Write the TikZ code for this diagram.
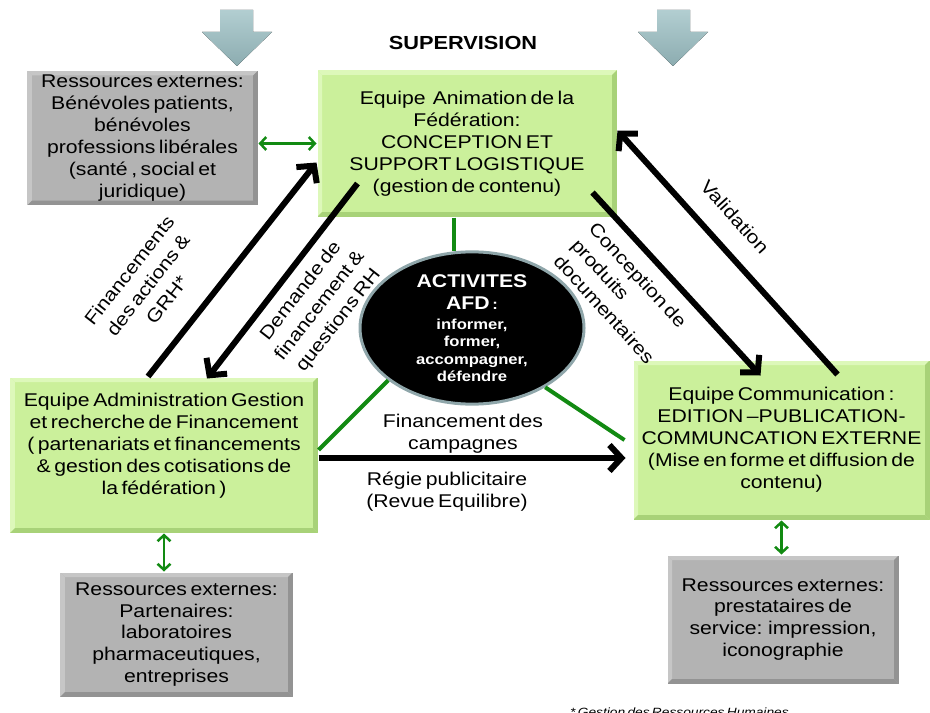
\documentclass[tikz,border=0pt]{standalone}
\usepackage{fontspec}
\setmainfont{Liberation Sans}[FakeStretch=1.15,WordSpace=0.6]
\usetikzlibrary{arrows.meta,shapes.geometric}

\definecolor{boxgreen}{HTML}{CBF09B}
\definecolor{greenlight}{HTML}{DDF8BA}
\definecolor{greendark}{HTML}{A8D278}
\definecolor{boxgray}{HTML}{B3B3B3}
\definecolor{graylight}{HTML}{C6C6C6}
\definecolor{graydark}{HTML}{939393}
\definecolor{linkgreen}{HTML}{128A12}
\definecolor{suplight}{HTML}{B2CED1}
\definecolor{supdark}{HTML}{8CACB0}
\definecolor{ellborder}{HTML}{8FA6AA}

\tikzset{
  % raised edges: light top/left strips, dark bottom/right strips
  bevel/.style 2 args={path picture={
    \fill[#1] (path picture bounding box.north west) -- (path picture bounding box.north east)
      -- ([xshift=-5bp,yshift=-5bp]path picture bounding box.north east)
      -- ([xshift=5bp,yshift=-5bp]path picture bounding box.north west) -- cycle;
    \fill[#1] (path picture bounding box.north west) -- (path picture bounding box.south west)
      -- ([xshift=5bp,yshift=5bp]path picture bounding box.south west)
      -- ([xshift=5bp,yshift=-5bp]path picture bounding box.north west) -- cycle;
    \fill[#2] (path picture bounding box.south west) -- (path picture bounding box.south east)
      -- ([xshift=-5bp,yshift=5bp]path picture bounding box.south east)
      -- ([xshift=5bp,yshift=5bp]path picture bounding box.south west) -- cycle;
    \fill[#2] (path picture bounding box.south east) -- (path picture bounding box.north east)
      -- ([xshift=-5bp,yshift=-5bp]path picture bounding box.north east)
      -- ([xshift=-5bp,yshift=5bp]path picture bounding box.south east) -- cycle;
  }},
  txt/.style={font=\fontsize{18.5}{22}\selectfont, align=center, inner sep=0pt},
  tiltxt/.style={font=\fontsize{18.5}{24}\selectfont, align=center, inner sep=0pt},
  greenbox/.style={rectangle, fill=boxgreen, draw=white, line width=1bp,
    bevel={greenlight}{greendark}, txt},
  graybox/.style={rectangle, fill=boxgray, draw=white, line width=1bp,
    bevel={graylight}{graydark}, txt},
  flow/.style={line width=6bp, -{Straight Barb[length=12bp,width=26bp]}},
  exchange/.style={line width=2.5bp, linkgreen,
    {Straight Barb[length=6bp,width=13bp]}-{Straight Barb[length=6bp,width=13bp]}},
  spoke/.style={line width=4bp, linkgreen},
  supervise/.style={top color=suplight, bottom color=supdark, draw=none},
}

\begin{document}
\begin{tikzpicture}[x=1bp,y=-1bp]
\useasboundingbox (0,0) rectangle (930,713);
\fill[white] (0,0) rectangle (930,713);

% supervision block arrows
\fill[supervise] (220,10) -- (253,10) -- (253,32) -- (272,32) -- (237,66) -- (202,32) -- (220,32) -- cycle;
\fill[supervise] (657,10) -- (690,10) -- (690,32) -- (708,32) -- (673,66) -- (638,32) -- (657,32) -- cycle;
\node[txt, font=\fontsize{19}{22}\selectfont\bfseries] (sup) at (463,43) {SUPERVISION};

% teams
\node[greenbox, minimum width=300bp, minimum height=147bp] (anim) at (467,143.5)
  {Equipe\ \ Animation de la\\Fédération:\\CONCEPTION ET\\SUPPORT LOGISTIQUE\\(gestion de contenu)};
\node[greenbox, minimum width=308bp, minimum height=156bp] (admin) at (164,455)
  {Equipe Administration Gestion\\et recherche de Financement\\( partenariats et financements\\\& gestion des cotisations de\\la fédération )\\\mbox{}};
\node[greenbox, minimum width=297bp, minimum height=160bp] (comm) at (781.5,440)
  {Equipe Communication :\\EDITION –PUBLICATION-\\COMMUNCATION EXTERNE\\(Mise en forme et diffusion de\\contenu)};

% external resources
\node[graybox, minimum width=231bp, minimum height=135bp] (resA) at (142.5,138)
  {Ressources externes:\\Bénévoles patients,\\bénévoles\\professions libérales\\(santé , social et\\juridique)};
\node[graybox, minimum width=233bp, minimum height=125bp] (resB) at (176.5,634.5)
  {Ressources externes:\\Partenaires:\\laboratoires\\pharmaceutiques,\\entreprises};
\node[graybox, minimum width=232bp, minimum height=129bp] (resC) at (783,619.5)
  {Ressources externes:\\prestataires de\\service: impression,\\iconographie};

% central activities
\node[ellipse, fill=black, draw=ellborder, line width=3bp, minimum width=224bp,
  minimum height=144bp, inner sep=0pt, text=white, align=center,
  font=\fontsize{14.5}{17.5}\selectfont\bfseries] (act) at (472,328)
  {{\fontsize{18.5}{22}\selectfont ACTIVITES}\\[5.5bp]{\fontsize{18.5}{22}\selectfont AFD} :\\[2bp]informer,\\former,\\accompagner,\\défendre};

% links to the activities
\draw[spoke] ([xshift=-13bp]anim.south) -- ([xshift=-13bp,yshift=-1bp]anim.south |- act.north);
\draw[spoke] ([yshift=5bp]admin.east) -- (act.212);
\draw[spoke] ([xshift=-8bp]comm.west) -- (act.321);

% exchanges with external resources
\draw[exchange] (resA.east |- anim.west) -- (anim.west);
\draw[exchange] (admin.south) -- (admin.south |- resB.north);
\draw[exchange] (comm.south) -- (comm.south |- resC.north);

% flows between teams
\draw[flow] ([xshift=-16bp]admin.north) -- ([yshift=-19bp]anim.west);
\draw[flow] ([xshift=41bp,yshift=34bp]anim.south west) -- ([xshift=43bp,yshift=-2bp]admin.north);
\draw[flow] ([xshift=-25bp,yshift=25bp]anim.south east) -- ([xshift=-21bp,yshift=-16bp]comm.north);
\draw[flow] ([xshift=56bp,yshift=-15bp]comm.north) -- ([yshift=13bp]anim.east);
\draw[flow, shorten >=7bp] ([yshift=-3bp]admin.east) -- ([yshift=-3bp]admin.east -| comm.west);

% flow labels
\node[tiltxt, rotate=52] (lfin) at (148,285) {Financements\\des actions \&\\GRH*};
\node[tiltxt, rotate=52] (ldem) at (320,306) {Demande de\\financement \&\\questions RH};
\node[tiltxt, rotate=-47.6, align=left] (lconc) at (622,293) {Conception de\\produits\\documentaires};
\node[tiltxt, rotate=-48] (lval) at (735,217) {Validation};
\node[txt] (lcamp) at (463,434) {Financement des\\campagnes};
\node[txt] (lregie) at (447,492) {Régie publicitaire\\(Revue Equilibre)};

% footnote
\node[inner sep=0pt, anchor=base west, font=\fontsize{12}{14}\selectfont\itshape] (note) at (570,716)
  {* Gestion des Ressources Humaines};
\end{tikzpicture}
\end{document}
